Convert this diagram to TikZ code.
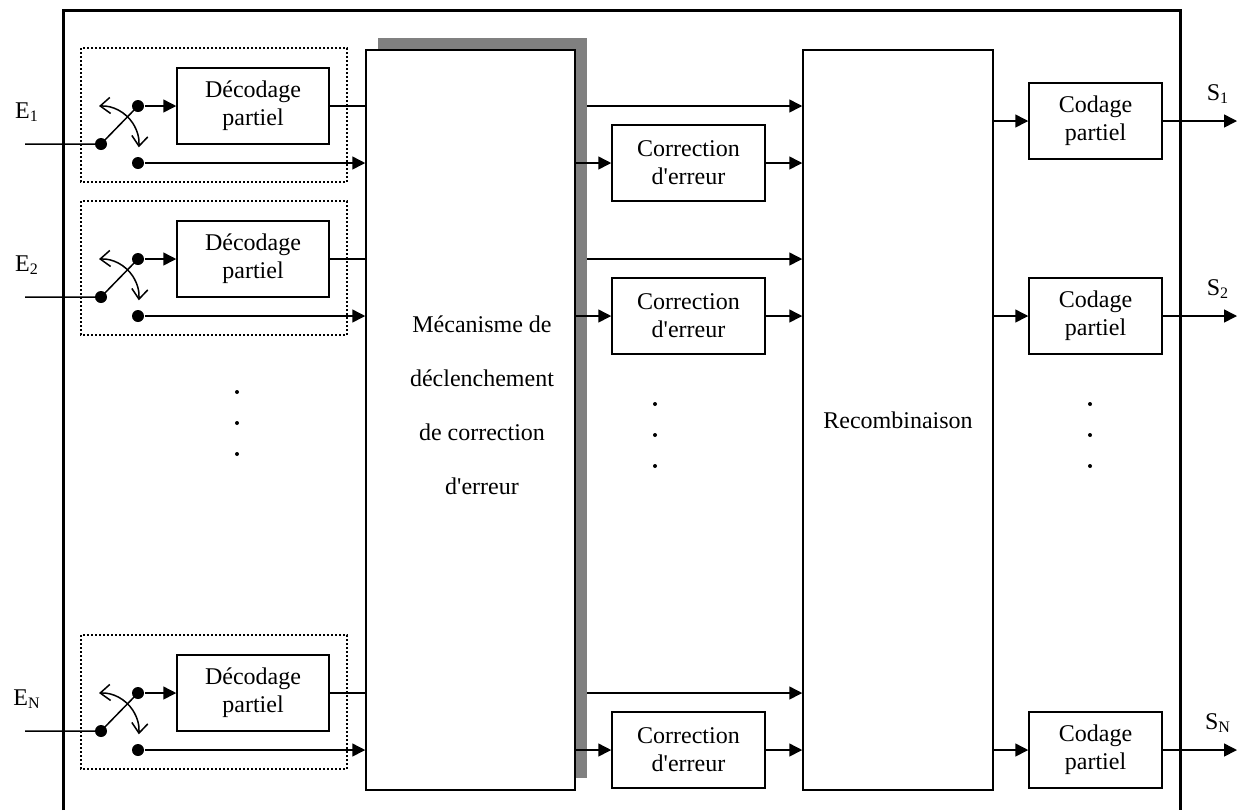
\documentclass[tikz,border=0pt]{standalone}
\usepackage{fontspec}
\setmainfont{Liberation Serif}
\usetikzlibrary{arrows.meta}

\tikzset{
  bloc/.style={draw, line width=0.75pt, fill=white, align=center, inner sep=0pt,
    minimum height=38pt, font=\fontsize{12}{14}\selectfont},
  pointe/.style={-{Triangle[length=6.5pt,width=6.5pt]}},
  contact/.style={circle, fill=black, inner sep=0pt, minimum size=6pt},
  etiq/.style={font=\fontsize{12}{14}\selectfont, inner sep=0pt},
}

\begin{document}
\begin{tikzpicture}[x=0.5pt, y=-0.5pt, line width=0.75pt]
  \useasboundingbox (0,0) rectangle (1241,810);
  % Cadre general
  \draw[line width=1.5pt] (63,810) -- (63,10) -- (1180,10) -- (1180,810);

  % Bloc central avec ombre
  \fill[gray] (378,38) rectangle (587,778);
  \node[bloc, minimum width=104.5pt, minimum height=370pt] (mec) at (470.5,420) {};
  \node[etiq, align=center, font=\fontsize{12}{27}\selectfont] (meclab) at (482,405)
    {M\'ecanisme de\\d\'eclenchement\\de correction\\d\textquotesingle erreur};

  % Recombinaison
  \node[bloc, minimum width=95pt, minimum height=370pt] (rec) at (898,420) {Recombinaison};

  % Voies
  \foreach \i/\dy/\cy in {1/0/121, 2/153/316, N/587/750} {
    % Decodage
    \draw[line width=1pt, dash pattern=on 1pt off 1pt] (81,48+\dy) rectangle (347,182+\dy);
    \node[bloc, minimum width=76pt] (dec\i) at (253,106+\dy) {D\'ecodage\\partiel};
    \node[contact] (piv\i) at (101,144+\dy) {};
    \node[contact] (up\i) at (138,106+\dy) {};
    \node[contact] (lo\i) at (138,163+\dy) {};
    \coordinate (e\i) at (25,144+\dy);
    \node[etiq] (lab\i) at (27,112+\dy) {E\textsubscript{\i}};
    \draw (e\i) -- (piv\i.center) -- (up\i.center);
    \draw[{Straight Barb[length=5pt,width=8pt]}-{Straight Barb[length=5pt,width=8pt]}]
      ([shift={(93:19pt)}]piv\i.center) arc[start angle=93, end angle=-5, radius=19pt];
    \draw[pointe] (up\i) -- (dec\i);
    \draw (dec\i) -- (dec\i -| mec.west);
    \draw[pointe] (lo\i) -- (lo\i -| mec.west);
    % Correction
    \node[bloc, minimum width=76.5pt] (cor\i) at (688.5,163+\dy) {Correction\\d\textquotesingle erreur};
    \draw[pointe] (587,106+\dy) -- (rec.west |- up\i);
    \draw[pointe] (mec.east |- cor\i) -- (cor\i);
    \draw[pointe] (cor\i) -- (rec.west |- cor\i);
    % Codage
    \node[bloc, minimum width=66.5pt] (cod\i) at (1095.5,\cy) {Codage\\partiel};
    \coordinate (s\i) at (1237,\cy);
    \node[etiq] (slab\i) at (1218,\cy-27) {S\textsubscript{\i}};
    \draw[pointe] (rec.east |- cod\i) -- (cod\i);
    \draw[pointe] (cod\i) -- (s\i);
  }

  % Points de suspension
  \foreach \x/\y in {237/392, 655/404, 1090/404} {
    \foreach \k in {0,1,2}
      \fill (\x,\y+31*\k) circle (1pt);
  }
\end{tikzpicture}
\end{document}
